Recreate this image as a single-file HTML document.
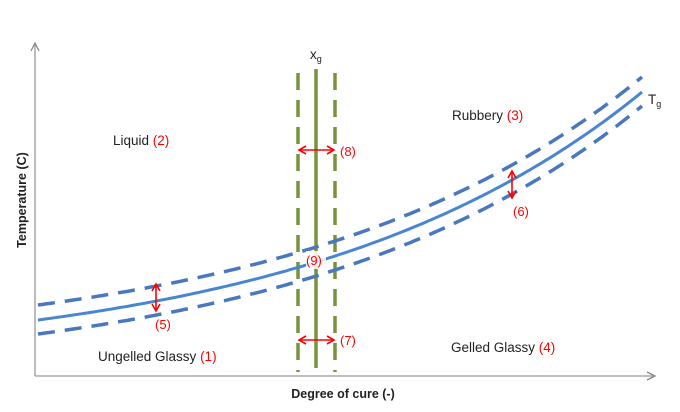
<!DOCTYPE html>
<html><head><meta charset="utf-8"><style>
body{margin:0;background:#fff;width:680px;height:407px;overflow:hidden}
svg text{font-family:"Liberation Sans",sans-serif}
</style></head><body>
<svg id="s" width="680" height="407" xmlns="http://www.w3.org/2000/svg">
<defs>
<marker id="ar" markerWidth="10" markerHeight="10" refX="9" refY="5" orient="auto" markerUnits="userSpaceOnUse"><path d="M1,1 L9,5 L1,9" fill="none" stroke="#888" stroke-width="1.3"/></marker>
<marker id="rh" markerWidth="10" markerHeight="10" refX="8" refY="5" orient="auto-start-reverse" markerUnits="userSpaceOnUse"><path d="M1,1 L8,5 L1,9" fill="none" stroke="#f00" stroke-width="1.6"/></marker>
</defs>
<line x1="35" y1="376" x2="35" y2="43" stroke="#999" stroke-width="1.3" marker-end="url(#ar)"/>
<line x1="35" y1="376" x2="655" y2="376" stroke="#999" stroke-width="1.3" marker-end="url(#ar)"/>
<line x1="316" y1="69" x2="316" y2="368" stroke="#77933c" stroke-width="3.5"/>
<line x1="298" y1="73" x2="298" y2="372" stroke="#77933c" stroke-width="3.5" stroke-dasharray="17 10"/>
<line x1="335" y1="73" x2="335" y2="372" stroke="#77933c" stroke-width="3.5" stroke-dasharray="17 10"/>
<path id="p0" fill="none" stroke="#4a86d0" stroke-width="3"/>
<path id="p1" fill="none" stroke="#4a78c0" stroke-width="3.5" stroke-dasharray="17 10"/>
<path id="p2" fill="none" stroke="#4a78c0" stroke-width="3.5" stroke-dasharray="17 10"/>
<line x1="156" y1="284" x2="156" y2="311" stroke="#f00" stroke-width="1.6" marker-start="url(#rh)" marker-end="url(#rh)"/>
<line x1="512" y1="171" x2="512" y2="198" stroke="#f00" stroke-width="1.6" marker-start="url(#rh)" marker-end="url(#rh)"/>
<line x1="299" y1="150" x2="334" y2="150" stroke="#f00" stroke-width="1.6" marker-start="url(#rh)" marker-end="url(#rh)"/>
<line x1="299" y1="340" x2="334" y2="340" stroke="#f00" stroke-width="1.6" marker-start="url(#rh)" marker-end="url(#rh)"/>
<rect x="306" y="251" width="20" height="18" fill="#fff" opacity="0.85"/>
<g font-size="13" fill="#f00">
<text x="306" y="265">(9)</text>
<text x="340" y="156">(8)</text>
<text x="340" y="345">(7)</text>
<text x="155" y="329">(5)</text>
<text x="513" y="216">(6)</text>
</g>
<g font-size="13.5" fill="#222">
<text x="113" y="145">Liquid <tspan fill="#f00">(2)</tspan></text>
<text x="452" y="120">Rubbery <tspan fill="#f00">(3)</tspan></text>
<text x="98" y="361">Ungelled Glassy <tspan fill="#f00">(1)</tspan></text>
<text x="451" y="352">Gelled Glassy <tspan fill="#f00">(4)</tspan></text>
<text x="310" y="59">x<tspan font-size="9" dy="3">g</tspan></text>
<text x="648" y="104">T<tspan font-size="9" dy="3">g</tspan></text>
</g>
<text x="343" y="398" font-size="12.5" font-weight="bold" text-anchor="middle" fill="#222">Degree of cure (-)</text>
<text transform="translate(26,200) rotate(-90)" font-size="12.5" font-weight="bold" text-anchor="middle" fill="#222">Temperature (C)</text>
</svg>
<script>
function mk(off,x0,x1){var d="";for(var x=x0;x<=x1;x+=4){var y=320-44.5*(Math.exp(0.003*(x-38))-1)+off;d+=(d?"L":"M")+x+","+y.toFixed(1);}return d;}
document.getElementById("p0").setAttribute("d",mk(0,38,642));
document.getElementById("p1").setAttribute("d",mk(-15,38,642));
document.getElementById("p2").setAttribute("d",mk(14,38,642));
</script>
</body></html>
